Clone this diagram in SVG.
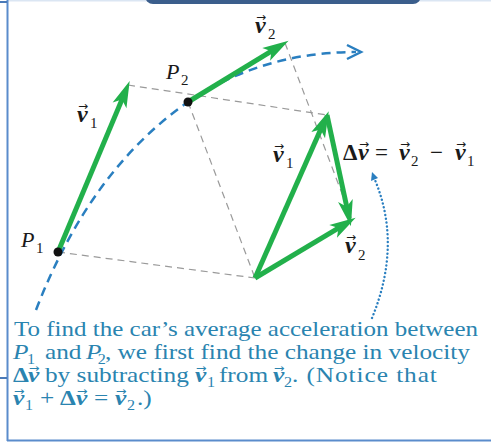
<svg xmlns="http://www.w3.org/2000/svg" width="491" height="442" viewBox="0 0 491 442">
<style>
.lbl{font-family:"Liberation Serif","Times New Roman",serif;fill:#1a1a1a}
.vec{font-weight:bold;font-style:italic;font-size:24px}
.sub{font-size:15px}
.arr{font-family:"DejaVu Sans",sans-serif;font-size:12px}
.it{font-style:italic;font-size:22px}
.cap{font-family:"Liberation Serif","Times New Roman",serif;font-size:22px;fill:#2a84b0}
.capv{font-family:"Liberation Serif","Times New Roman",serif;font-weight:bold;font-style:italic;font-size:22px;fill:#2a84b0}
.caps{font-family:"Liberation Serif","Times New Roman",serif;font-size:14px;fill:#2a84b0}
.cara{font-family:"DejaVu Sans",sans-serif;font-size:11px;fill:#2a84b0}
.green{stroke:#22b04b;stroke-width:5;fill:none;marker-end:url(#gh)}
.guide{stroke:#9a9a9a;stroke-width:1.2;stroke-dasharray:7 5;fill:none}
</style>
<defs>
<marker id="gh" markerUnits="userSpaceOnUse" markerWidth="30" markerHeight="20" viewBox="-9 -8 23 16" refX="0" refY="0" orient="auto">
<path d="M13,0 L-8,-6 L-3,0 L-8,6 Z" fill="#22b04b"/>
</marker>
</defs>
<g id="frame">
<rect x="7" y="0" width="484" height="1.5" fill="#dbe6f3"/>
<rect x="145" y="-12" width="276" height="16" rx="8" fill="#3b5e8c"/>
<line x1="7.5" y1="0" x2="7.5" y2="441" stroke="#5a8ccc" stroke-width="2"/>
<line x1="0" y1="2" x2="7" y2="2" stroke="#4a7ab8" stroke-width="2"/>
<line x1="0" y1="378" x2="7" y2="378" stroke="#4a7ab8" stroke-width="2"/>
<line x1="7" y1="440.5" x2="491" y2="440.5" stroke="#5a8ccc" stroke-width="2"/>
</g>
<g id="connectors">
<line class="guide" x1="128" y1="85" x2="327" y2="115"/>
<line class="guide" x1="285" y1="43" x2="352" y2="220"/>
<line class="guide" x1="188" y1="102" x2="255" y2="278"/>
<line class="guide" x1="58" y1="252" x2="255" y2="278"/>
<path d="M36,310 Q90,170 188,102 Q262,52 356,52" fill="none" stroke="#2a7fc0" stroke-width="2.5" stroke-dasharray="9 6"/>
<polyline points="347,45 361,52 347,59" fill="none" stroke="#2a7fc0" stroke-width="2.5"/>
<path d="M372,318 Q402,245 375,180" fill="none" stroke="#2a7fc0" stroke-width="2.4" stroke-dasharray="0.1 3.8" stroke-linecap="round"/>
<path d="M372,172 L371,181 L378,178 Z" fill="#2a7fc0"/>
<line class="green" x1="58" y1="252" x2="123.4" y2="96.1"/>
<line class="green" x1="188" y1="102" x2="274.7" y2="49.2"/>
<line class="green" x1="255" y1="278" x2="322.2" y2="126"/>
<line class="green" x1="255" y1="278" x2="341.7" y2="226.2"/>
<line class="green" x1="327" y1="115" x2="347.5" y2="210.3"/>
</g>
<g id="P1">
<circle cx="58" cy="252" r="4.5" fill="#111"/>
<text class="lbl it" x="21" y="247">P</text>
<text class="lbl sub" x="36" y="253">1</text>
</g>
<g id="P2">
<circle cx="188" cy="102" r="4.5" fill="#111"/>
<text class="lbl it" x="166" y="79">P</text>
<text class="lbl sub" x="181" y="85">2</text>
</g>
<g id="v1-label">
<text class="lbl vec" x="77" y="122">v</text>
<text class="lbl sub" x="90" y="128">1</text>
<text class="lbl arr" x="78" y="110">→</text>
</g>
<g id="v2-label">
<text class="lbl vec" x="255" y="33">v</text>
<text class="lbl sub" x="268" y="39">2</text>
<text class="lbl arr" x="256" y="21">→</text>
</g>
<g id="v1-tri-label">
<text class="lbl vec" x="273" y="162">v</text>
<text class="lbl sub" x="286" y="168">1</text>
<text class="lbl arr" x="274" y="150">→</text>
</g>
<g id="v2-tri-label">
<text class="lbl vec" x="345" y="253">v</text>
<text class="lbl sub" x="358" y="260">2</text>
<text class="lbl arr" x="346" y="241">→</text>
</g>
<g id="dv-label">
<text class="lbl" x="343" y="160" font-size="23" font-weight="bold">Δ</text>
<text class="lbl vec" x="358" y="160">v</text>
<text class="lbl arr" x="359" y="148">→</text>
<text class="lbl" x="375" y="160" font-size="23">=</text>
<text class="lbl vec" x="399" y="160">v</text>
<text class="lbl sub" x="411" y="166">2</text>
<text class="lbl arr" x="400" y="148">→</text>
<text class="lbl" x="430" y="160" font-size="23">−</text>
<text class="lbl vec" x="455" y="160">v</text>
<text class="lbl sub" x="467" y="166">1</text>
<text class="lbl arr" x="456" y="148">→</text>
</g>
<g id="caption" transform="scale(1.15 1)">
<text class="cap" x="12.2" y="336" textLength="403.5" lengthAdjust="spacingAndGlyphs">To find the car’s average acceleration between</text>
<text class="cap" x="11.3" y="359" font-style="italic">P</text>
<text class="caps" x="23.5" y="364">1</text>
<text class="cap" x="39.1" y="359">and</text>
<text class="cap" x="74.8" y="359" font-style="italic">P</text>
<text class="caps" x="85" y="364">2</text>
<text class="cap" x="91.3" y="359" textLength="317.4" lengthAdjust="spacing">, we first find the change in velocity</text>
<text class="cap" x="11.3" y="382" font-weight="bold">Δ</text>
<text class="capv" x="24.3" y="382">v</text>
<text class="cara" x="25" y="372">→</text>
<text class="cap" x="39.1" y="382">by subtracting</text>
<text class="capv" x="169.6" y="382">v</text>
<text class="cara" x="170.3" y="372">→</text>
<text class="caps" x="180" y="387">1</text>
<text class="cap" x="190.4" y="382">from</text>
<text class="capv" x="237.4" y="382">v</text>
<text class="cara" x="238.1" y="372">→</text>
<text class="caps" x="247" y="387">2</text>
<text class="cap" x="253.9" y="382" textLength="126" lengthAdjust="spacing">. (Notice that</text>
<text class="capv" x="11.3" y="405">v</text>
<text class="cara" x="12" y="395">→</text>
<text class="caps" x="21.7" y="410">1</text>
<text class="cap" x="34.8" y="405">+</text>
<text class="cap" x="52.2" y="405" font-weight="bold">Δ</text>
<text class="capv" x="66.1" y="405">v</text>
<text class="cara" x="66.8" y="395">→</text>
<text class="cap" x="81.7" y="405">=</text>
<text class="capv" x="100" y="405">v</text>
<text class="cara" x="100.7" y="395">→</text>
<text class="caps" x="110.4" y="410">2</text>
<text class="cap" x="119.1" y="405">.)</text>
</g>
</svg>
